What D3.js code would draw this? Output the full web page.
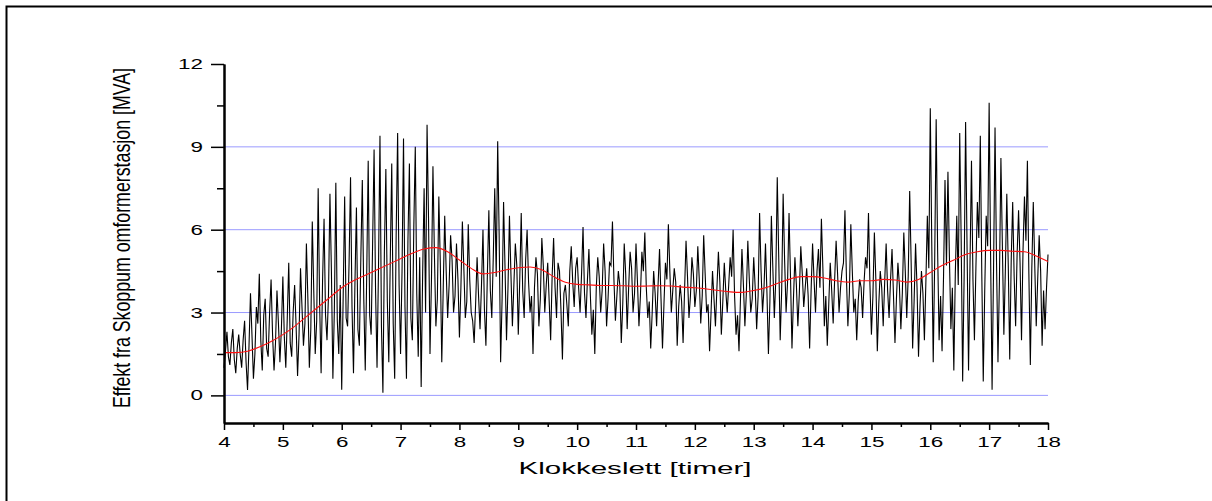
<!DOCTYPE html>
<html><head><meta charset="utf-8">
<script src="https://cdn.jsdelivr.net/npm/d3@7"></script>
<style>
body{margin:0;background:#fff}
svg{display:block}
text{font-family:"Liberation Sans",Arial,sans-serif;fill:#000}
</style>
</head><body>
<svg id="c" width="1212" height="501"></svg>
<script>
// ---------- data ----------
const xTicks = [4,5,6,7,8,9,10,11,12,13,14,15,16,17,18];
const xMinorTicks = [4.5,5.5,6.5,7.5,8.5,9.5,10.5,11.5,12.5,13.5,14.5,15.5,16.5,17.5];
const yTicks = [0,3,6,9,12];
const yMinorTicks = [1.5,4.5,7.5,10.5];
const gridValues = [0,3,6,9];

// measured load: spike readings every 0.05 h starting at 4.00
const loadStart = 4, loadStep = 0.05;
const loadValues = [
 // 4.00 - 4.95
 1.0,2.3,1.1,2.4,0.8,2.2,1.0,2.7,0.2,3.7,0.6,3.2,4.4,0.9,3.5,1.4,4.2,0.9,3.8,1.2,
 // 5.00 - 5.95
 4.3,1.0,4.8,1.4,4.0,0.7,4.6,1.8,5.5,1.0,6.3,1.5,7.5,0.8,6.4,2.0,7.3,0.6,7.7,1.5,
 // 6.00 - 6.95
 0.2,7.2,2.5,7.9,0.8,6.8,1.8,7.8,0.9,8.5,2.2,8.9,1.0,9.4,0.1,8.2,1.2,8.4,0.6,9.5,
 // 7.00 - 7.95
 1.5,9.3,0.6,8.4,2.0,9.0,1.4,0.3,7.5,9.8,1.5,8.3,2.5,7.2,1.2,6.5,2.8,5.8,3.0,5.5,
 // 8.00 - 8.95
 2.1,6.3,2.8,6.2,3.0,1.9,5.0,2.4,6.0,1.8,6.7,2.8,7.5,9.2,1.2,7.0,2.0,6.5,2.5,5.5,
 // 9.00 - 9.95
 2.2,6.6,2.8,6.0,3.0,1.5,5.0,2.5,5.7,3.0,4.8,2.0,5.7,2.8,4.5,1.3,4.0,2.5,5.4,3.2,
 // 10.00 - 10.95
 5.0,3.0,6.1,2.8,5.3,2.2,1.5,5.0,3.0,5.5,2.5,4.8,6.3,2.7,4.5,1.9,5.5,2.4,5.2,3.0,
 // 11.00 - 11.95
 5.5,2.5,5.2,5.9,2.8,1.7,4.5,2.5,5.3,1.7,4.8,6.2,3.0,4.6,1.8,4.0,1.9,5.6,2.8,5.0,
 // 12.00 - 12.95
 3.2,5.4,2.6,5.8,3.0,1.6,4.5,2.5,5.2,2.2,4.8,3.0,5.0,6.0,2.2,1.6,5.3,2.5,5.6,3.0,
 // 13.00 - 13.95
 5.0,2.4,6.6,3.0,5.5,1.5,6.5,2.8,7.9,2.0,7.3,3.0,6.6,1.7,5.0,2.5,5.4,3.2,4.6,1.7,
 // 14.00 - 14.95
 5.5,3.0,5.3,6.4,2.5,1.8,4.8,2.6,5.6,3.0,4.5,6.7,2.5,6.2,3.0,2.0,4.2,2.8,5.0,6.6,
 // 15.00 - 15.95
 2.2,5.9,1.6,4.5,2.5,5.5,2.8,5.3,1.9,4.8,2.4,5.9,2.8,7.4,1.7,5.5,1.4,4.5,2.0,6.5,
 // 16.00 - 16.95
 10.4,1.2,10.0,2.0,1.6,7.8,8.1,2.4,0.9,6.5,9.5,0.5,9.9,0.9,8.5,2.0,7.0,9.4,0.5,6.5,
 // 17.00 - 17.95
 10.6,0.2,9.7,1.2,8.6,2.2,7.3,1.3,7.0,2.5,6.7,2.0,7.2,8.5,1.1,7.0,2.5,5.8,1.8,2.4,
 // 18.00
 5.1
];

// measured load: readings in the dark band between spikes, every 0.05 h starting at 4.025
const bandStart = 4.025, bandStep = 0.05;
const bandValues = [
 // 4.025 - 4.975
 1.6,1.4,1.9,1.3,1.7,1.5,2.0,1.2,1.8,2.2,1.5,2.6,2.0,2.9,1.7,3.0,2.2,1.9,2.6,2.4,
 // 5.025 - 5.975
 2.1,2.8,1.9,3.0,2.5,2.2,3.2,2.6,3.5,2.4,3.8,2.7,3.3,4.2,2.9,3.6,4.5,3.1,2.7,4.0,
 // 6.025 - 6.975
 3.6,2.8,4.8,3.2,4.1,2.4,5.0,3.5,4.4,2.9,5.5,3.8,4.6,2.5,5.2,3.4,4.9,2.6,5.8,4.0,
 // 7.025 - 7.975
 4.5,3.2,5.6,2.8,6.1,3.7,5.0,4.4,3.0,6.4,4.2,5.1,3.5,4.8,3.9,4.5,4.0,4.9,3.6,4.2,
 // 8.025 - 8.975
 3.9,4.6,3.4,4.2,2.7,3.3,3.6,4.0,3.1,4.4,3.8,5.0,4.3,5.8,3.5,4.6,3.9,4.4,4.0,4.7,
 // 9.025 - 9.975
 4.2,3.8,4.9,4.1,3.6,3.9,4.4,3.5,4.7,4.0,3.4,4.3,3.9,4.8,3.1,3.7,3.3,4.5,4.1,4.6,
 // 10.025 - 10.975
 3.9,4.4,3.7,4.2,3.6,3.1,3.9,4.3,3.8,4.5,3.5,4.7,4.2,3.6,4.0,3.3,4.4,3.9,4.6,3.7,
 // 11.025 - 11.975
 4.1,3.6,4.5,3.9,3.4,3.0,3.7,4.0,3.5,3.3,4.2,4.5,3.8,4.1,3.2,3.4,3.8,4.3,3.6,4.4,
 // 12.025 - 12.975
 3.8,4.2,3.6,4.4,3.3,3.0,3.5,3.9,4.1,3.4,3.8,4.0,4.3,3.6,2.9,3.5,4.0,3.7,4.2,3.5,
 // 13.025 - 13.975
 3.9,3.6,4.5,3.9,3.7,3.4,4.6,4.2,5.0,3.8,4.9,4.1,4.3,3.5,4.0,3.7,4.4,3.9,3.6,3.8,
 // 14.025 - 14.975
 4.2,4.5,3.9,4.6,3.6,3.3,3.8,4.2,4.4,3.9,4.8,4.3,3.7,4.5,3.5,3.4,3.9,4.1,4.6,4.0,
 // 15.025 - 15.975
 3.6,4.2,3.3,3.9,4.1,3.8,4.2,3.6,3.5,4.0,3.7,4.5,4.3,4.8,3.4,3.9,3.2,3.7,4.1,4.6,
 // 16.025 - 16.975
 5.5,4.9,5.2,3.6,4.3,4.7,5.0,3.9,4.4,4.0,5.6,4.3,5.3,4.8,4.2,4.6,5.7,4.4,3.8,5.4,
 // 17.025 - 17.975
 5.0,4.6,4.9,4.2,5.4,4.5,4.7,4.9,4.3,5.1,4.8,5.2,5.6,4.4,4.6,4.7,4.2,4.5,3.8,3.9
];

// smoothed (moving average) curve, one value every 0.2 h starting at 4.0
const avgStart = 4, avgStep = 0.2;
const avgValues = [
 1.55,1.55,1.6,1.75,1.95,2.2,2.5,2.85,3.2,3.55,
 3.9,4.15,4.35,4.55,4.75,4.95,5.15,5.3,5.35,5.2,
 4.9,4.6,4.4,4.45,4.55,4.62,4.65,4.55,4.3,4.1,
 4.02,4.0,3.98,3.98,3.97,3.95,3.96,3.97,3.96,3.92,
 3.9,3.85,3.8,3.75,3.73,3.8,3.9,4.05,4.2,4.3,
 4.3,4.25,4.15,4.1,4.15,4.15,4.2,4.18,4.1,4.2,
 4.45,4.7,4.9,5.1,5.2,5.25,5.25,5.22,5.2,5.05,
 4.85
];

const xTitle = "Klokkeslett [timer]";
const yTitle = "Effekt fra Skoppum omformerstasjon [MVA]";

// ---------- drawing ----------
const svg = d3.select("#c");
const x = d3.scaleLinear().domain([4, 18]).range([224, 1048]);
const y = d3.scaleLinear().domain([-1, 12]).range([423, 64]);
const STRETCH = 1.6;

// frame (top and left edges)
svg.append("path")
  .attr("d", "M6.5,501V6.5H1212")
  .attr("fill", "none").attr("stroke", "#000").attr("stroke-width", 2);

// grid lines
svg.append("g").selectAll("line").data(gridValues).join("line")
  .attr("x1", x(4)).attr("x2", x(18))
  .attr("y1", d => y(d)).attr("y2", d => y(d))
  .attr("stroke", "#9a9aff").attr("stroke-width", 1);

// black measured series (spike readings and band readings merged in time order)
const loadData = loadValues.map((v, i) => ({h: loadStart + i * loadStep, v}))
  .concat(bandValues.map((v, i) => ({h: bandStart + i * bandStep, v})))
  .sort((a, b) => a.h - b.h);
svg.append("path").datum(loadData)
  .attr("fill", "none").attr("stroke", "#000").attr("stroke-width", 1.1)
  .attr("stroke-linejoin", "miter")
  .attr("d", d3.line().x(d => x(d.h)).y(d => y(d.v)));

// red smoothed series
const avgData = avgValues.map((v, i) => ({h: avgStart + i * avgStep, v}));
svg.append("path").datum(avgData)
  .attr("fill", "none").attr("stroke", "#ff1010").attr("stroke-width", 1.1)
  .attr("d", d3.line().curve(d3.curveMonotoneX).x(d => x(d.h)).y(d => y(d.v)));

// axes
function styleAxis(g, w) {
  g.select(".domain").attr("stroke", "#000").attr("stroke-width", w);
  g.selectAll(".tick line").attr("stroke", "#000").attr("stroke-width", 1.5);
}
const xMinor = svg.append("g").attr("transform", `translate(0,${y(-1)})`)
  .call(d3.axisBottom(x).tickValues(xMinorTicks).tickSize(4).tickFormat("").tickSizeOuter(0));
styleAxis(xMinor, 2);
const xAxis = svg.append("g").attr("transform", `translate(0,${y(-1)})`)
  .call(d3.axisBottom(x).tickValues(xTicks).tickSize(7).tickPadding(7).tickSizeOuter(0).tickFormat(d3.format("d")));
styleAxis(xAxis, 2);

const yMinor = svg.append("g").attr("transform", `translate(${x(4)},0)`)
  .call(d3.axisLeft(y).tickValues(yMinorTicks).tickSize(7).tickFormat("").tickSizeOuter(0));
styleAxis(yMinor, 2);
const yAxis = svg.append("g").attr("transform", `translate(${x(4)},0)`)
  .call(d3.axisLeft(y).tickValues(yTicks).tickSize(13).tickPadding(8).tickSizeOuter(0).tickFormat(d3.format("d")));
styleAxis(yAxis, 2);

svg.selectAll(".tick text")
  .attr("font-size", 14).attr("font-family", "'Liberation Sans', Arial, sans-serif")
  .attr("fill", "#111")
  .each(function() {
    const w = this.getComputedTextLength();
    if (w > 0) d3.select(this).attr("textLength", w * STRETCH).attr("lengthAdjust", "spacingAndGlyphs");
  });

// axis titles
svg.append("text")
  .attr("x", 635).attr("y", 474)
  .attr("text-anchor", "middle").attr("font-size", 17)
  .attr("textLength", 233).attr("lengthAdjust", "spacingAndGlyphs")
  .text(xTitle);

svg.append("g").attr("transform", "translate(122,238) rotate(-90) scale(1,1.45)")
  .append("text")
  .attr("x", 0).attr("y", 0).attr("dy", "0.35em")
  .attr("text-anchor", "middle").attr("font-size", 16)
  .attr("textLength", 340).attr("lengthAdjust", "spacingAndGlyphs")
  .text(yTitle);
</script>
</body></html>
